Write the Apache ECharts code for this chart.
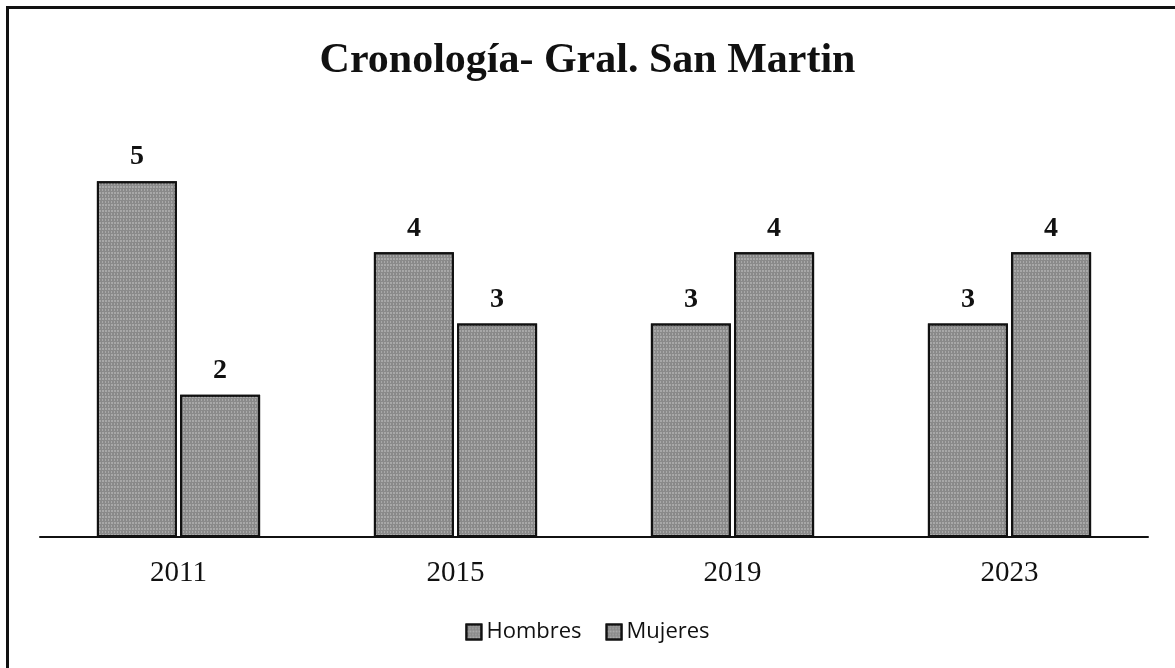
<!DOCTYPE html>
<html>
<head>
<meta charset="utf-8">
<script src="https://cdn.jsdelivr.net/npm/echarts@6/dist/echarts.min.js"></script>
<style>
  html, body { margin: 0; padding: 0; background: #fff; }
  #chart { position: absolute; left: 0; top: 0; width: 1175px; height: 668px; }
  #frame { position: absolute; left: 6px; top: 6px; width: 1175px; height: 668px;
           border-left: 3px solid #111; border-top: 3px solid #111; pointer-events: none; }
</style>
</head>
<body>
<div id="chart"></div>
<div id="frame"></div>
<script>
var years   = ['2011', '2015', '2019', '2023'];
var hombres = [5, 4, 3, 3];
var mujeres = [2, 3, 4, 4];

var barFill = '#8a8a8a';
var serif   = '"Liberation Serif","Times New Roman",serif';

// speckled scan-like texture
function grain() {
    return {
        symbol: 'rect',
        symbolSize: 0.7,
        color: 'rgba(255,255,255,0.5)',
        dashArrayX: [[1, 2], [2, 1]],
        dashArrayY: [2, 1],
        rotation: 0
    };
}

function barSeries(name, data) {
    return {
        name: name,
        type: 'bar',
        data: data,
        barWidth: 80,
        barGap: '4%',
        itemStyle: {
            color: barFill,
            borderColor: '#111',
            borderWidth: 2,
            decal: grain()
        },
        label: {
            show: true,
            position: 'top',
            distance: 10,
            color: '#111',
            fontFamily: serif,
            fontWeight: 'bold',
            fontSize: 28
        }
    };
}

var chart = echarts.init(document.getElementById('chart'));
chart.setOption({
    backgroundColor: '#fff',
    animation: false,
    aria: { enabled: true, decal: { show: true } },
    title: {
        text: 'Cronología- Gral. San Martin',
        left: 'center',
        top: 35,
        textStyle: { fontFamily: serif, fontWeight: 'bold', fontSize: 42, color: '#111' }
    },
    legend: {
        bottom: 20,
        left: 'center',
        itemWidth: 15,
        itemHeight: 15,
        itemGap: 24,
        icon: 'rect',
        textStyle: { fontFamily: '"Open Sans","Noto Sans",sans-serif', fontSize: 22, color: '#111' }
    },
    grid: { left: 40, right: 27, top: 110, bottom: 131 },
    xAxis: {
        type: 'category',
        data: years,
        axisLine: { lineStyle: { color: '#111', width: 2 } },
        axisTick: { show: false },
        axisLabel: { fontFamily: serif, fontSize: 29, color: '#111', margin: 22 }
    },
    yAxis: {
        type: 'value',
        min: 0,
        max: 6,
        show: false,
        splitLine: { show: false }
    },
    series: [
        barSeries('Hombres', hombres),
        barSeries('Mujeres', mujeres)
    ]
});
</script>
</body>
</html>
